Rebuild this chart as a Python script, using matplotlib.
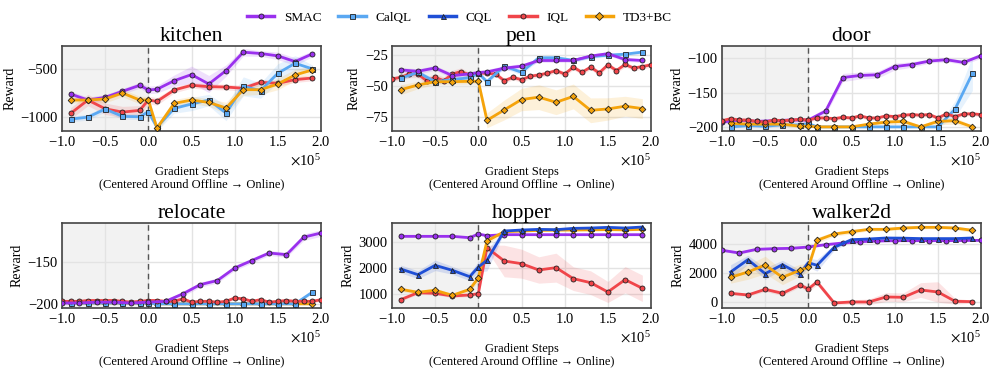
import numpy as np
import matplotlib
matplotlib.use("Agg")
import matplotlib.pyplot as plt
from matplotlib.ticker import MultipleLocator, ScalarFormatter
from matplotlib.lines import Line2D

plt.rcParams['font.family'] = ['Liberation Serif', 'DejaVu Serif']
plt.rcParams['mathtext.fontset'] = 'stix'
plt.rcParams['axes.unicode_minus'] = True

# ---------------- data (x in thousands of gradient steps) ----------------
X_ODD = [-90, -70, -50, -30, -10, 0, 10, 30, 50, 70, 90, 110, 130, 150, 170, 190]
X_TENTH = [-100, -90, -80, -70, -60, -50, -40, -30, -20, -10, 0, 10, 20, 30, 40, 50,
           60, 70, 80, 90, 100, 110, 120, 130, 140, 150, 160, 170, 180, 190, 200]
X_FIFTH = [-100, -80, -60, -40, -20, 0, 20, 40, 60, 80, 100, 120, 140, 160, 180, 200]

methods = ["SMAC", "CalQL", "CQL", "IQL", "TD3+BC"]
colors = ["#9a30ee", "#5aa8f2", "#1f4fd6", "#f0454a", "#f5a30a"]
markers = ["o", "s", "^", "o", "D"]

env_names = ["kitchen", "pen", "door", "relocate", "hopper", "walker2d"]

# kitchen
kitchen_smac = [-761, -824, -796, -732, -669, -718, -711, -620, -556, -655, -514, -320, -334, -359, -419, -338]
kitchen_smac_sd = [30, 30, 30, 30, 30, 40, 40, 60, 90, 90, 60, 40, 30, 40, 40, 30]
kitchen_calql = [-1025, -1004, -919, -996, -1000, -947, -1110, -912, -866, -824, -961, -680, -725, -542, -437, -496]
kitchen_calql_sd = [30, 30, 30, 30, 30, 40, 40, 50, 70, 60, 80, 100, 80, 100, 80, 40]
kitchen_iql = [-965, -824, -916, -951, -933, -824, -838, -718, -669, -683, -687, -700, -637, -648, -609, -592]
kitchen_iql_sd = [60, 60, 60, 60, 50, 40, 40, 30, 30, 30, 30, 30, 30, 30, 30, 30]
kitchen_td3 = [-824, -824, -813, -750, -824, -824, -1120, -859, -824, -849, -908, -715, -715, -655, -560, -507]
kitchen_td3_sd = [30, 30, 40, 40, 40, 40, 40, 40, 40, 40, 60, 60, 50, 60, 60, 40]

# pen
pen_smac = [-36.7, -37.8, -35.1, -41.3, -39.9, -38.9, -38.3, -35.3, -33.7, -29.1, -29.1, -29.1, -25.5, -23.6, -28.3, -29.1]
pen_smac_sd = [2, 2, 2, 2, 2, 2, 2, 2, 2, 1.5, 1.5, 1.5, 1.5, 1.5, 1.5, 1.5]
pen_calql = [-43.5, -38.6, -46.2, -44.5, -43.0, -39.4, -46.2, -33.7, -38.6, -26.9, -26.9, -29.0, -26.0, -24.8, -24.0, -22.3]
pen_calql_sd = [2, 2, 2, 2, 2, 2, 2, 2, 2, 2, 2, 1.5, 1.5, 1.5, 1.5, 1.5]
pen_iql = [-44.0, -42.7, -40.0, -40.0, -45.4, -42.7, -45.4, -40.0, -38.0, -40.8, -39.1, -39.5, -40.0, -45.4, -42.7,
           -44.6, -41.8, -40.8, -39.4, -37.2, -40.0, -34.5, -38.6, -34.5, -39.1, -32.6, -37.2, -32.3, -35.3, -34.0, -32.6]
pen_iql_sd = [2, 2, 3, 3, 3, 3, 3, 3, 3, 2, 2, 2, 2, 2, 2,
              2, 2, 2, 2, 2, 2, 2, 2, 2, 2, 2, 2, 2, 2, 2, 2]
pen_td3 = [-52.7, -48.9, -46.2, -46.2, -45.9, -45.9, -77.4, -69.0, -60.6, -58.7, -62.8, -58.1, -69.3, -68.2, -66.0, -67.9]
pen_td3_sd = [4, 3, 2, 2, 2, 2, 6, 8, 9, 10, 10, 10, 10, 9, 8, 8]

# door
door_smac = [-193, -190, -192, -191, -190, -190, -177, -128, -125, -124, -112, -109, -104, -102, -106, -96]
door_smac_sd = [3, 3, 3, 3, 3, 3, 5, 6, 5, 5, 5, 4, 3, 3, 3, 4]
door_calql = [-200, -198, -199, -197, -197, -195, -200, -200, -200, -200, -200, -200, -200, -200, -174, -122]
door_calql_sd = [2, 2, 2, 2, 2, 2, 1, 1, 1, 1, 1, 1, 1, 1, 12, 25]
door_iql = [-191, -188, -190, -190, -192, -193, -190, -191, -190, -189, -190, -187, -187, -188, -186, -187,
            -184, -187, -187, -184, -185, -183, -182, -183, -182, -187, -181, -185, -181, -181, -182]
door_iql_sd = [3, 3, 3, 3, 3, 3, 3, 3, 3, 3, 3, 3, 3, 3, 3, 3,
               3, 3, 3, 3, 3, 3, 3, 3, 3, 3, 3, 3, 3, 3, 3]
door_td3 = [-195, -196, -196, -196, -199, -199, -200, -200, -200, -196, -193, -192, -200, -192, -191, -200]
door_td3_sd = [3, 3, 3, 3, 2, 2, 1, 1, 1, 3, 4, 4, 2, 5, 5, 2]

# relocate
reloc_smac = [-199, -199, -198, -198, -199, -198, -197, -188, -177, -172, -157, -148, -139, -141, -120, -115]
reloc_smac_sd = [2, 2, 2, 2, 2, 2, 2, 3, 3, 3, 3, 3, 3, 3, 4, 4]
reloc_calql = [-199, -199, -199, -199, -199, -199, -200, -200, -200, -200, -200, -200, -200, -200, -200, -186]
reloc_calql_sd = [1, 1, 1, 1, 1, 1, 1, 1, 1, 1, 1, 1, 1, 1, 1, 2]
reloc_iql = [-197, -197, -197, -196, -196, -196, -196, -197, -198, -197, -196, -196, -197, -197, -194, -198,
             -197, -197, -198, -197, -193, -194, -197, -195, -198, -197, -196, -197, -197, -197, -195]
reloc_iql_sd = [2, 2, 2, 2, 2, 2, 2, 2, 2, 2, 2, 2, 2, 2, 2, 2,
                2, 2, 2, 2, 2, 2, 2, 2, 2, 2, 2, 2, 2, 2, 2]
reloc_td3 = [-199, -199, -199, -199, -199, -199, -200, -200, -200, -200, -200, -200, -200, -200, -200, -200]
reloc_td3_sd = [1, 1, 1, 1, 1, 1, 1, 1, 1, 1, 1, 1, 1, 1, 1, 1]

# hopper
hop_smac = [3203, 3203, 3203, 3203, 3152, 3291, 3228, 3266, 3266, 3266, 3266, 3266, 3266, 3266, 3266, 3266]
hop_smac_sd = [30, 30, 30, 30, 30, 30, 30, 30, 30, 30, 30, 30, 30, 30, 30, 30]
hop_cql = [1962, 1747, 2101, 1911, 1671, 2038, 2291, 3405, 3443, 3468, 3456, 3506, 3519, 3544, 3519, 3557]
hop_cql_sd = [150, 150, 200, 150, 150, 200, 400, 60, 60, 60, 50, 50, 50, 60, 50, 50]
hop_iql = [797, 1063, 1038, 937, 975, 1025, 2772, 2266, 2165, 1924, 2013, 1595, 1443, 1089, 1557, 1228]
hop_iql_sd = [60, 60, 60, 60, 60, 60, 100, 600, 550, 500, 550, 450, 450, 400, 500, 500]
hop_td3 = [1190, 1076, 1152, 962, 1190, 1620, 3025, 3380, 3405, 3430, 3440, 3445, 3450, 3460, 3450, 3470]
hop_td3_sd = [80, 80, 80, 60, 80, 150, 150, 40, 40, 40, 40, 40, 40, 40, 40, 40]

# walker2d
walk_smac = [3570, 3383, 3634, 3680, 3703, 3794, 3954, 4069, 4160, 4206, 4229, 4229, 4229, 4229, 4240, 4251]
walk_smac_sd = [80, 80, 80, 80, 80, 80, 80, 80, 80, 80, 80, 80, 80, 80, 80, 80]
walk_cql = [2080, 2926, 1966, 2583, 1943, 2720, 2537, 3771, 4297, 4343, 4411, 4400, 4370, 4370, 4370, 4411]
walk_cql_sd = [500, 300, 400, 300, 300, 300, 400, 200, 100, 100, 80, 80, 80, 80, 80, 80]
walk_iql = [617, 503, 891, 617, 1189, 914, 1394, -46, 23, 23, 366, 343, 846, 709, 69, 46]
walk_iql_sd = [100, 100, 150, 150, 150, 200, 200, 150, 150, 200, 300, 300, 500, 700, 200, 100]
walk_td3 = [1714, 2080, 2560, 1714, 2194, 2400, 4251, 4686, 4846, 5006, 5006, 5097, 5143, 5143, 5097, 4937]
walk_td3_sd = [400, 500, 600, 500, 400, 300, 200, 150, 150, 100, 100, 100, 100, 100, 100, 150]

# y-axis settings per env
ylims = [(-1150, -255), (-86, -17.4), (-206, -82), (-205, -103), (480, 3710), (-390, 5440)]
ysteps = [500, 25, 50, 50, 1000, 2000]

# table built from the named lists: env -> list of (method, x, y, sd)
series = {
    "kitchen": [("SMAC", X_ODD, kitchen_smac, kitchen_smac_sd), ("IQL", X_ODD, kitchen_iql, kitchen_iql_sd),
                ("CalQL", X_ODD, kitchen_calql, kitchen_calql_sd), ("TD3+BC", X_ODD, kitchen_td3, kitchen_td3_sd)],
    "pen": [("IQL", X_TENTH, pen_iql, pen_iql_sd), ("CalQL", X_ODD, pen_calql, pen_calql_sd),
            ("SMAC", X_ODD, pen_smac, pen_smac_sd), ("TD3+BC", X_ODD, pen_td3, pen_td3_sd)],
    "door": [("SMAC", X_FIFTH, door_smac, door_smac_sd), ("CalQL", X_ODD, door_calql, door_calql_sd),
             ("TD3+BC", X_ODD, door_td3, door_td3_sd), ("IQL", X_TENTH, door_iql, door_iql_sd)],
    "relocate": [("TD3+BC", X_ODD, reloc_td3, reloc_td3_sd), ("CalQL", X_ODD, reloc_calql, reloc_calql_sd),
                 ("IQL", X_TENTH, reloc_iql, reloc_iql_sd), ("SMAC", X_FIFTH, reloc_smac, reloc_smac_sd)],
    "hopper": [("IQL", X_ODD, hop_iql, hop_iql_sd), ("SMAC", X_ODD, hop_smac, hop_smac_sd),
               ("TD3+BC", X_ODD, hop_td3, hop_td3_sd), ("CQL", X_ODD, hop_cql, hop_cql_sd)],
    "walker2d": [("IQL", X_ODD, walk_iql, walk_iql_sd), ("SMAC", X_FIFTH, walk_smac, walk_smac_sd),
                 ("CQL", X_ODD, walk_cql, walk_cql_sd), ("TD3+BC", X_ODD, walk_td3, walk_td3_sd)],
}

# ---------------- figure ----------------
W, H = 996, 374
fig = plt.figure(figsize=(W / 100, H / 100), dpi=100)

lefts = [62, 392, 722]
tops = [46, 223]
aw, ah = 259, 85

style = {m: (c, mk) for m, c, mk in zip(methods, colors, markers)}

for i, env in enumerate(env_names):
    r, c = divmod(i, 3)
    ax = fig.add_axes([lefts[c] / W, 1 - (tops[r] + ah) / H, aw / W, ah / H])
    ax.axvspan(-100000, 0, color="#f2f2f2", zorder=0, lw=0)
    ax.axvline(0, color="#555555", ls=(0, (4, 3)), lw=1.0, zorder=1)
    for m, xs, ys, sd in series[env]:
        col, mk = style[m]
        x = np.array(xs) * 1000.0
        y = np.array(ys, dtype=float)
        s = np.array(sd, dtype=float)
        ax.fill_between(x, y - s, y + s, color=col, alpha=0.15, lw=0, zorder=2)
        ax.plot(x, y, color=col, lw=2.0, marker=mk, ms=3.6 if mk != "D" else 3.4,
                mec="#222222", mew=0.6, zorder=3)
    ax.set_xlim(-100000, 200000)
    ax.set_ylim(*ylims[i])
    ax.xaxis.set_major_locator(MultipleLocator(50000))
    ax.yaxis.set_major_locator(MultipleLocator(ysteps[i]))
    fmt = ScalarFormatter(useMathText=True)
    fmt.set_scientific(True)
    fmt.set_powerlimits((0, 0))
    ax.xaxis.set_major_formatter(fmt)
    ax.xaxis.get_offset_text().set_fontsize(10.5)
    ax.grid(True, color="#e3e3e3", lw=1.0, zorder=0)
    ax.set_axisbelow(True)
    ax.tick_params(length=0, labelsize=10.5, pad=3)
    for sp in ax.spines.values():
        sp.set_color("#444444")
        sp.set_linewidth(1.2)
    ax.set_title(env, fontsize=15.5, pad=3)
    ax.set_ylabel("Reward", fontsize=10, labelpad=3)
    ax.set_xlabel("Gradient Steps\n(Centered Around Offline \u2192 Online)", fontsize=9,
                  labelpad=12, linespacing=1.1)

handles = [Line2D([0], [0], color=c, lw=2.5, marker=mk, ms=3.6, mec="#222222", mew=0.6)
           for c, mk in zip(colors, markers)]
fig.legend(handles, methods, loc="center", bbox_to_anchor=(0.461, 0.952), ncol=5, frameon=False,
           fontsize=9.5, handlelength=2.1, handletextpad=0.7, columnspacing=1.3)

fig.savefig("out.png", dpi=100)
